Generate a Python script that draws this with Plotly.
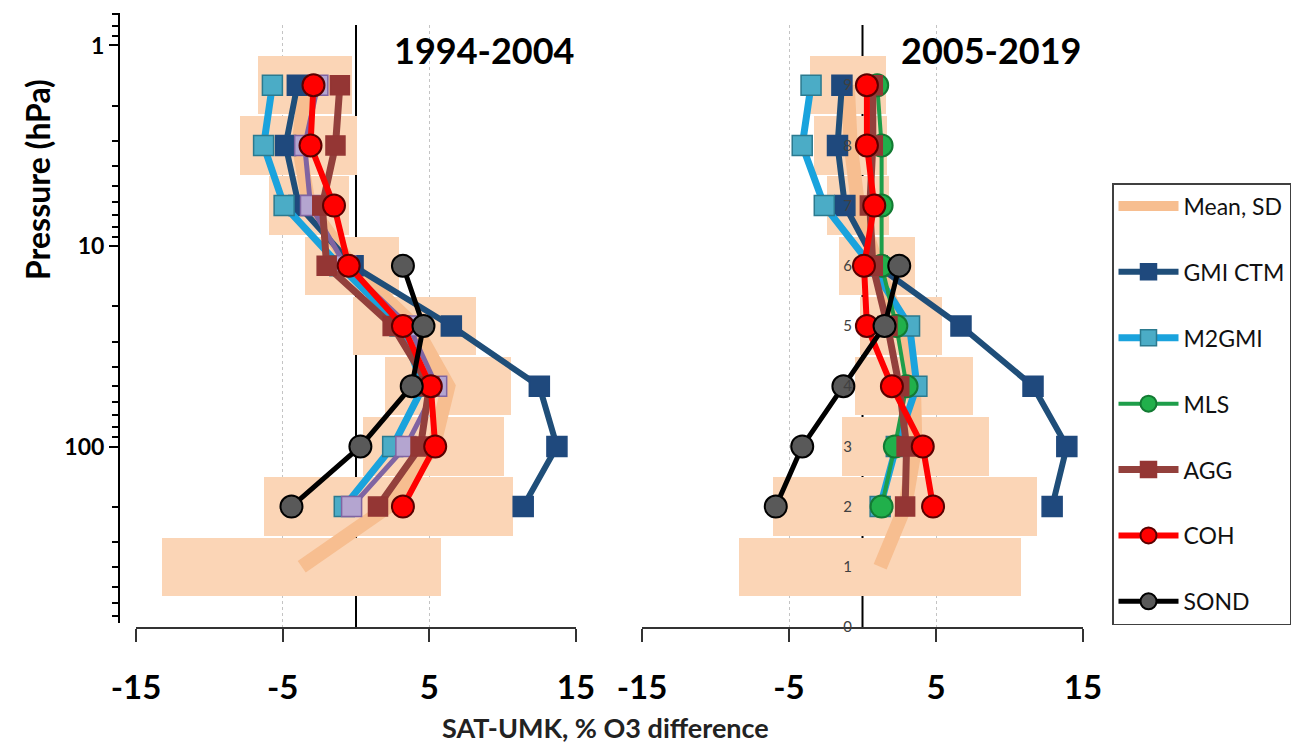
import plotly.graph_objects as go

# page body keeps an 8 px margin, so the figure is 8 px smaller and positions are shifted
FW, FH = 1306, 740
OFF = 8


def px(x):
    return (x - OFF) / FW


def py(y):
    return 1 - (y - OFF) / FH


# Umkehr layers
layers_box = [1, 2, 3, 4, 5, 6, 7, 8, 9]
layers = [2, 3, 4, 5, 6, 7, 8, 9]
layers_sond = [2, 3, 4, 5, 6]

# 1994-2004 panel
mean_a = [-3.7, 2.2, 5.3, 6.3, 4.0, -0.3, -3.2, -3.9, -3.5]
sd_a = [9.5, 8.5, 4.8, 4.3, 4.2, 3.2, 2.7, 4.0, 3.2]
gmi_a = [11.4, 13.7, 12.5, 6.5, -0.2, -3.9, -4.8, -4.0]
m2gmi_a = [-0.8, 2.5, 4.6, 3.0, -1.1, -4.9, -6.3, -5.7]
other_a = [-0.3, 3.4, 5.5, 3.6, -0.7, -3.1, -3.5, -2.6]
agg_a = [1.5, 4.4, 5.0, 2.5, -2.0, -2.3, -1.4, -1.1]
coh_a = [3.2, 5.4, 5.1, 3.2, -0.5, -1.5, -3.1, -2.9]
sond_a = [-4.4, 0.3, 3.8, 4.6, 3.2]

# 2005-2019 panel
mean_b = [1.2, 2.9, 3.6, 3.5, 2.6, 1.0, -0.3, -0.8, -1.0]
sd_b = [9.6, 9.0, 5.0, 4.0, 2.8, 2.6, 2.1, 2.5, 2.6]
gmi_b = [12.9, 13.9, 11.6, 6.7, 1.0, -1.2, -1.7, -1.4]
m2gmi_b = [1.2, 2.3, 3.7, 3.2, 0.6, -2.6, -4.1, -3.5]
mls_b = [1.3, 2.2, 3.0, 2.3, 1.3, 1.3, 1.3, 1.0]
agg_b = [2.9, 3.0, 2.5, 1.7, 0.7, 0.5, 0.7, 0.7]
coh_b = [4.8, 4.1, 2.0, 0.3, 0.1, 0.8, 0.3, 0.3]
sond_b = [-5.9, -4.1, -1.3, 1.5, 2.5]

x_ticks = [-15, -5, 5, 15]
x_ticktext = ['-15', '-5', '5', '15']
p_ticks = [1, 10, 100]
p_minor = [0.7, 0.8, 0.9, 2, 3, 4, 5, 6, 7, 8, 9, 20, 30, 40, 50, 60, 70, 80, 90,
           200, 300, 400, 500, 600, 700]
layer_ticks = list(range(10))

BOX = '#FBD5B6'
MEAN = '#F7BE90'

styles = {
    'GMI CTM': dict(line='#1F4E79', fill='#1F497D', edge='#1F497D', sym='square', lw=6, ms=20),
    'M2GMI': dict(line='#1AA3DD', fill='#4BACC6', edge='#2B7A8F', sym='square', lw=7, ms=20),
    'other': dict(line='#8064A2', fill='#B4A5D0', edge='#8064A2', sym='square', lw=5, ms=20),
    'MLS': dict(line='#1E9E4A', fill='#21B04B', edge='#137A33', sym='circle', lw=4, ms=22),
    'AGG': dict(line='#93403C', fill='#943634', edge='#943634', sym='square', lw=7, ms=19),
    'COH': dict(line='#FF0000', fill='#FF0000', edge='#5A0000', sym='circle', lw=6, ms=22),
    'SOND': dict(line='#000000', fill='#595959', edge='#000000', sym='circle', lw=5, ms=22),
}

fig = go.Figure()


def add_panel(xa, ya, mean, sd, series, legend):
    fig.add_trace(go.Bar(y=layers_box, x=[2 * s for s in sd],
                         base=[m - s for m, s in zip(mean, sd)],
                         orientation='h', width=0.97, marker_color=BOX,
                         marker_line_width=0, showlegend=False, hoverinfo='skip',
                         xaxis=xa, yaxis=ya))
    fig.add_trace(go.Scatter(x=mean, y=layers_box, mode='lines', name='Mean, SD',
                             line=dict(color=MEAN, width=14), legendgroup='Mean, SD',
                             showlegend=legend, xaxis=xa, yaxis=ya))
    for name, xs, ys in series:
        st = styles[name]
        fig.add_trace(go.Scatter(
            x=xs, y=ys, mode='lines+markers', name=name, legendgroup=name,
            showlegend=legend and name != 'other',
            line=dict(color=st['line'], width=st['lw']),
            marker=dict(symbol=st['sym'], size=st['ms'], color=st['fill'],
                        line=dict(color=st['edge'], width=1.5 if st['sym'] == 'square' else 2)),
            xaxis=xa, yaxis=ya))


add_panel('x', 'y', mean_a, sd_a,
          [('GMI CTM', gmi_a, layers), ('M2GMI', m2gmi_a, layers),
           ('other', other_a, layers), ('AGG', agg_a, layers),
           ('COH', coh_a, layers), ('SOND', sond_a, layers_sond)], False)
add_panel('x2', 'y2', mean_b, sd_b,
          [('GMI CTM', gmi_b, layers), ('M2GMI', m2gmi_b, layers),
           ('MLS', mls_b, layers), ('AGG', agg_b, layers),
           ('COH', coh_b, layers), ('SOND', sond_b, layers_sond)], True)

# dummy trace so the pressure axis gets drawn
fig.add_trace(go.Scatter(x=[0], y=[10], mode='markers', marker=dict(opacity=0),
                         showlegend=False, hoverinfo='skip', xaxis='x3', yaxis='y3'))

xcommon = dict(range=[-15, 15], tickvals=x_ticks, ticktext=x_ticktext,
               ticks='outside', ticklen=13, automargin=False,
               tickwidth=1.5, tickcolor='#333', showline=True, linecolor='#333',
               linewidth=1.5, showgrid=True, gridcolor='#C4C4C4', griddash='dot',
               gridwidth=1, zeroline=False, ticklabelstandoff=18,
               tickfont=dict(size=33, color='black', weight='bold'))
ydom = [py(627), py(25)]

fig.update_layout(
    width=FW, height=FH, margin=dict(l=0, r=0, t=0, b=0),
    paper_bgcolor='white', plot_bgcolor='white',
    font=dict(family='Lato', color='black'),
    barmode='overlay', bargap=0,
    xaxis=dict(domain=[px(136), px(576)], anchor='y', **xcommon),
    xaxis2=dict(domain=[px(642), px(1083)], anchor='y2', **xcommon),
    yaxis=dict(domain=ydom, range=[0, 10], visible=False, automargin=False),
    yaxis2=dict(domain=ydom, range=[0, 10], anchor='free', position=px(863),
                side='left', showline=False, showgrid=False, zeroline=False,
                automargin=False, tickvals=layer_ticks, ticks='outside', ticklen=8,
                tickcolor='rgba(0,0,0,0)', tickfont=dict(size=15, color='#404040')),
    xaxis3=dict(domain=[0, 0.02], anchor='y3', visible=False, range=[0, 1],
                automargin=False),
    yaxis3=dict(domain=[py(623), py(13)], type='log', range=[2.880, -0.162],
                anchor='free', position=px(119), side='left', showline=True,
                automargin=False,
                linecolor='black', linewidth=2, showgrid=False, zeroline=False,
                tickvals=p_ticks, ticktext=[str(v) for v in p_ticks],
                ticks='outside', ticklen=9, tickwidth=2, tickcolor='black',
                tickfont=dict(size=23, weight='bold'),
                minor=dict(tickvals=p_minor, ticks='outside', ticklen=6,
                           tickwidth=2, tickcolor='black', showgrid=False)),
    legend=dict(x=px(1112), y=py(183), xanchor='left', yanchor='top',
                bordercolor='#404040', borderwidth=1.5, bgcolor='white',
                font=dict(size=23, color='#111'), tracegroupgap=33,
                itemwidth=60, traceorder='grouped'),
    shapes=[
        dict(type='line', xref='x', yref='y', x0=0, x1=0, y0=0, y1=10,
             line=dict(color='black', width=2), layer='below'),
        dict(type='line', xref='x2', yref='y2', x0=0, x1=0, y0=0, y1=10,
             line=dict(color='black', width=2), layer='below'),
    ],
    annotations=[
        dict(text='Pressure (hPa)', x=px(37), y=py(180), xref='paper', yref='paper',
             xanchor='center', yanchor='middle', textangle=-90, showarrow=False,
             font=dict(size=32, weight='bold')),
        dict(text='1994-2004', x=px(576), y=py(50), xref='paper', yref='paper',
             xanchor='right', yanchor='middle', showarrow=False,
             font=dict(size=36, weight='bold')),
        dict(text='2005-2019', x=px(1083), y=py(50), xref='paper', yref='paper',
             xanchor='right', yanchor='middle', showarrow=False,
             font=dict(size=36, weight='bold')),
        dict(text='SAT-UMK, % O3 difference', x=px(605), y=py(727),
             xref='paper', yref='paper', xanchor='center', yanchor='middle',
             showarrow=False, font=dict(size=27, weight='bold', color='#222')),
    ],
)

fig.write_html("out.html")
